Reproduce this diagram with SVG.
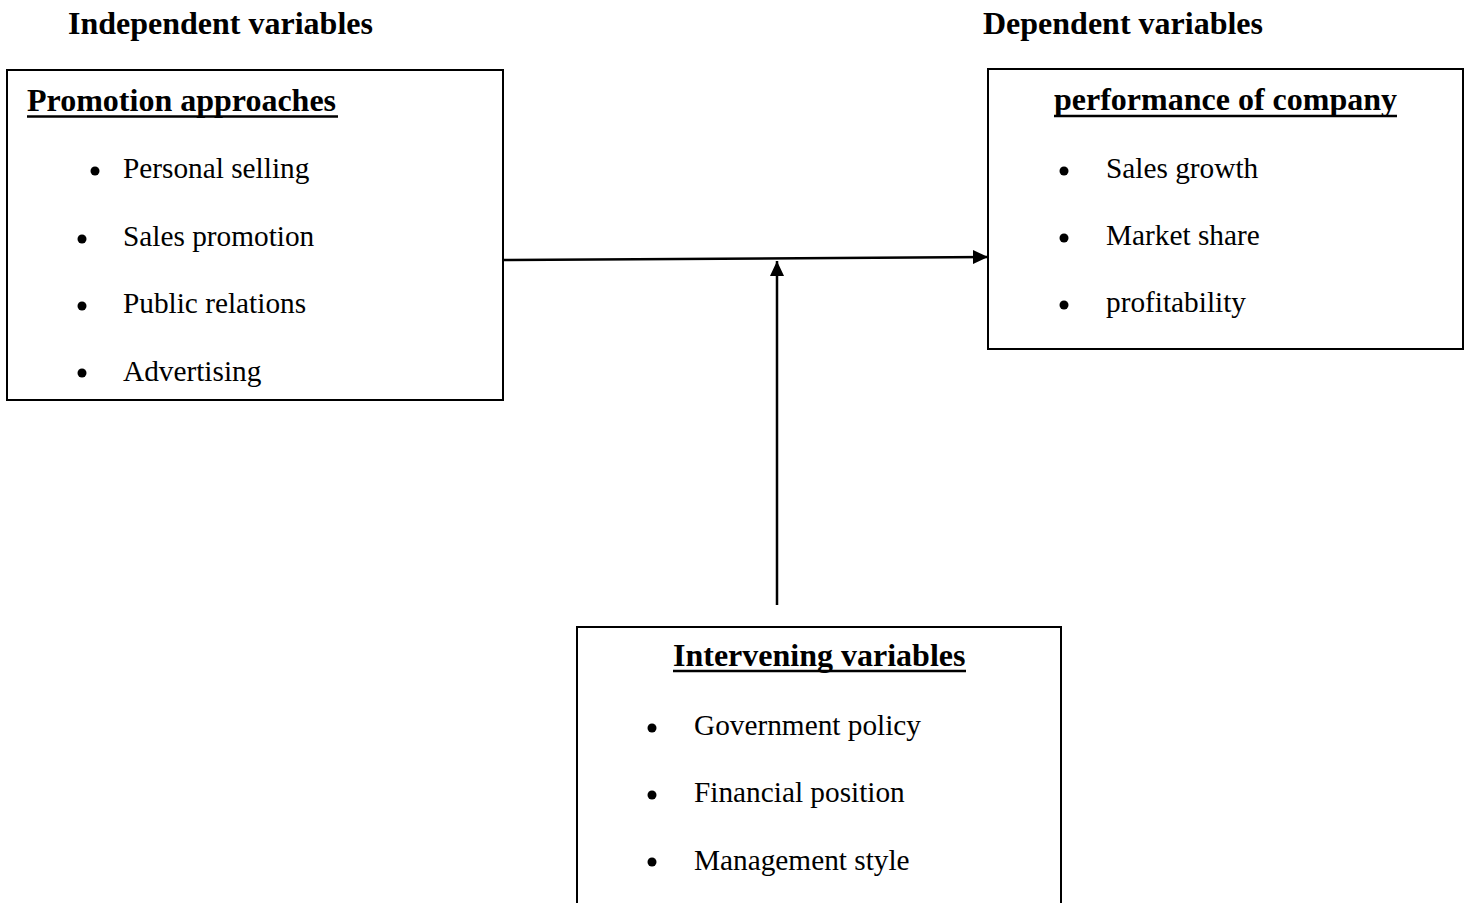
<svg xmlns="http://www.w3.org/2000/svg" width="1468" height="903" viewBox="0 0 1468 903">
<style>
text{font-family:'Liberation Serif','Times New Roman',Times,serif;fill:#000}
.h{font-weight:bold;font-size:32px}
.t{font-size:29.3px}
.box{fill:#fff;stroke:#000;stroke-width:2}
.ul{stroke:#000;stroke-width:2.5}
.b{fill:#000}
.c{stroke:#000;stroke-width:2.5;fill:none}
</style>
<defs>
<marker id="ah" markerUnits="userSpaceOnUse" markerWidth="16" markerHeight="16" refX="15" refY="7" orient="auto">
<path d="M0,0 L15,7 L0,14 Z" fill="#000"/>
</marker>
</defs>
<rect width="1468" height="903" fill="#fff"/>
<g id="labels">
<text class="h" x="68" y="34">Independent variables</text>
<text class="h" x="983" y="34">Dependent variables</text>
</g>
<g id="independent">
<rect class="box" x="7" y="70" width="496" height="330"/>
<text class="h" x="27" y="111">Promotion approaches</text>
<line class="ul" x1="27" y1="116.5" x2="338" y2="116.5"/>
<circle class="b" cx="95" cy="171" r="4.5"/>
<text class="t" x="123" y="178">Personal selling</text>
<circle class="b" cx="82" cy="239" r="4.5"/>
<text class="t" x="123" y="246">Sales promotion</text>
<circle class="b" cx="82" cy="306" r="4.5"/>
<text class="t" x="123" y="313">Public relations</text>
<circle class="b" cx="82" cy="373" r="4.5"/>
<text class="t" x="123" y="381">Advertising</text>
</g>
<g id="dependent">
<rect class="box" x="988" y="69" width="475" height="280"/>
<text class="h" x="1054" y="110">performance of company</text>
<line class="ul" x1="1054" y1="116" x2="1397" y2="116"/>
<circle class="b" cx="1064" cy="171" r="4.5"/>
<text class="t" x="1106" y="178">Sales growth</text>
<circle class="b" cx="1064" cy="238" r="4.5"/>
<text class="t" x="1106" y="245">Market share</text>
<circle class="b" cx="1064" cy="305" r="4.5"/>
<text class="t" x="1106" y="312">profitability</text>
</g>
<g id="intervening">
<rect class="box" x="577" y="627" width="484" height="290"/>
<text class="h" x="673" y="666">Intervening variables</text>
<line class="ul" x1="673" y1="671" x2="966" y2="671"/>
<circle class="b" cx="652" cy="728" r="4.5"/>
<text class="t" x="694" y="735">Government policy</text>
<circle class="b" cx="652" cy="795" r="4.5"/>
<text class="t" x="694" y="802">Financial position</text>
<circle class="b" cx="652" cy="862" r="4.5"/>
<text class="t" x="694" y="870">Management style</text>
</g>
<g id="connectors">
<line class="c" x1="503" y1="260" x2="988" y2="257" marker-end="url(#ah)"/>
<line class="c" x1="777" y1="605" x2="777" y2="261" marker-end="url(#ah)"/>
</g>
</svg>
